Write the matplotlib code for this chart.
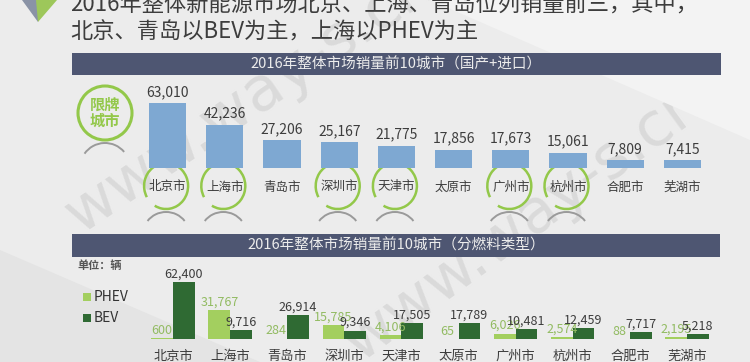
import matplotlib as mpl
mpl.use('Agg')
import matplotlib.pyplot as plt
from matplotlib.patches import Rectangle, Arc, Circle, Polygon

plt.rcParams['font.family'] = ['Noto Sans CJK SC', 'DejaVu Sans']

# data
cities_total = ['北京市', '上海市', '青岛市', '深圳市', '天津市', '太原市', '广州市', '杭州市', '合肥市', '芜湖市']
sales_total = [63010, 42236, 27206, 25167, 21775, 17856, 17673, 15061, 7809, 7415]
restricted = ['北京市', '上海市', '深圳市', '天津市', '广州市', '杭州市']

cities_fuel = ['北京市', '上海市', '青岛市', '深圳市', '天津市', '太原市', '广州市', '杭州市', '合肥市', '芜湖市']
phev = [600, 31767, 284, 15785, 4106, 65, 6026, 2574, 88, 2195]
bev = [62400, 9716, 26914, 9346, 17505, 17789, 10481, 12459, 7717, 5218]

title1 = '2016年整体新能源市场北京、上海、青岛位列销量前三，其中，'
title2 = '北京、青岛以BEV为主，上海以PHEV为主'
banner1 = '2016年整体市场销量前10城市（国产+进口）'
banner2 = '2016年整体市场销量前10城市（分燃料类型）'

W, H = 750, 362
BLUE = '#7ea8d2'
LGREEN = '#a3cf5f'
DGREEN = '#2f6a33'
RING = '#93c84a'
TXT = '#3d3d3d'
BANNER = '#4e5672'

fig = plt.figure(figsize=(7.5, 3.62), dpi=100)
fig.patch.set_facecolor('#ececec')

# background / decoration layer in pixel coordinates
bg = fig.add_axes([0, 0, 1, 1])
bg.set_xlim(0, W)
bg.set_ylim(H, 0)
bg.axis('off')
bg.add_patch(Polygon([(0, 362), (0, 250), (260, 362)], color='#e4e4e4', lw=0))
bg.add_patch(Polygon([(430, 0), (750, 0), (750, 140)], color='#f3f3f3', lw=0))

# watermark
bg.text(250, 100, 'www.way-s.cn', fontsize=44, color='#dadada', rotation=34,
        ha='center', va='center', family='DejaVu Sans', zorder=0)
bg.text(525, 222, 'www.way-s.cn', fontsize=44, color='#dadada', rotation=36,
        ha='center', va='center', family='DejaVu Sans', zorder=0)

# logo
bg.add_patch(Polygon([(22, 0), (42, 0), (38, 22)], color='#8a93a6', lw=0))
bg.add_patch(Polygon([(36, 0), (57, 0), (38, 22)], color='#9dc75a', lw=0))

bg.text(70, 4, title1, fontsize=16, color=TXT, va='center', ha='left')
bg.text(70, 32, title2, fontsize=16, color=TXT, va='center', ha='left')

bg.add_patch(Rectangle((72, 53), 649, 22, color=BANNER, lw=0))
bg.text(396, 64, banner1, fontsize=10.5, color='#ececec', ha='center', va='center')
bg.add_patch(Rectangle((72, 234), 648, 23, color=BANNER, lw=0))
bg.text(396, 245.5, banner2, fontsize=10.5, color='#ececec', ha='center', va='center')

# 限牌城市 badge
bg.add_patch(Circle((105, 113), 27, fill=False, ec=RING, lw=2.2))
bg.text(105, 113, '限牌\n城市', fontsize=11, fontweight='bold', color=RING,
        ha='center', va='center', linespacing=1.0)
bg.add_patch(Arc((105, 168), 50, 50, theta1=215, theta2=320, color='#9a9a9a', lw=1.4))

# top chart
left1, step1 = 139.0, 57.2
ax1 = fig.add_axes([left1 / W, 1 - 168 / H, step1 * 10 / W, 80 / H])
ax1.patch.set_alpha(0)
x1 = list(range(len(cities_total)))
ax1.bar(x1, sales_total, width=0.65, color=BLUE)
for xi, v in zip(x1, sales_total):
    ax1.annotate(f'{v:,}', (xi, v), xytext=(0, 3), textcoords='offset points',
                 ha='center', va='bottom', fontsize=10, color=TXT)
ax1.set_xlim(-0.5, 9.5)
ax1.set_ylim(0, 78000)
ax1.set_xticks(x1, cities_total)
ax1.tick_params(axis='x', length=0, pad=9, labelsize=9, labelcolor=TXT)
ax1.set_yticks([])
for s in ax1.spines.values():
    s.set_visible(False)

for i, c in enumerate(cities_total):
    if c in restricted:
        cx = left1 + step1 * (i + 0.5) - 1.5
        bg.add_patch(Arc((cx, 186), 44, 46, theta1=150, theta2=480, color=RING, lw=1.8))
        bg.add_patch(Arc((cx, 234), 46, 44, theta1=215, theta2=325, color='#9a9a9a', lw=1.4))

# bottom chart
left2, step2 = 144.5, 57.1
ax2 = fig.add_axes([left2 / W, 1 - 339 / H, step2 * 10 / W, 70 / H])
ax2.patch.set_alpha(0)
x2 = list(range(len(cities_fuel)))
bw = 0.38
xp = [x - bw / 2 for x in x2]
xb = [x + bw / 2 for x in x2]
ax2.bar(xp, phev, width=bw, color=LGREEN)
ax2.bar(xb, bev, width=bw, color=DGREEN)
for xi, v in zip(xp, phev):
    ax2.annotate(f'{v:,}', (xi, v), xytext=(0, 1), textcoords='offset points',
                 ha='center', va='bottom', fontsize=9, color='#92bb62')
for xi, v in zip(xb, bev):
    ax2.annotate(f'{v:,}', (xi, v), xytext=(0, 1), textcoords='offset points',
                 ha='center', va='bottom', fontsize=9, color=TXT)
ax2.set_xlim(-0.5, 9.5)
ax2.set_ylim(0, 77000)
ax2.set_xticks(x2, cities_fuel)
ax2.tick_params(axis='x', length=0, pad=8, labelsize=9.5, labelcolor=TXT)
ax2.set_yticks([])
for s in ax2.spines.values():
    s.set_visible(False)

# legend
bg.text(77, 265, '单位：辆', fontsize=8, fontweight='bold', color='#555555', ha='left', va='center')
bg.add_patch(Rectangle((83, 293), 8, 8, color=LGREEN, lw=0))
bg.text(94, 297, 'PHEV', fontsize=10, color='#333333', ha='left', va='center')
bg.add_patch(Rectangle((83, 314), 8, 8, color=DGREEN, lw=0))
bg.text(94, 318, 'BEV', fontsize=10, color='#333333', ha='left', va='center')

fig.savefig('out.png', dpi=100)
